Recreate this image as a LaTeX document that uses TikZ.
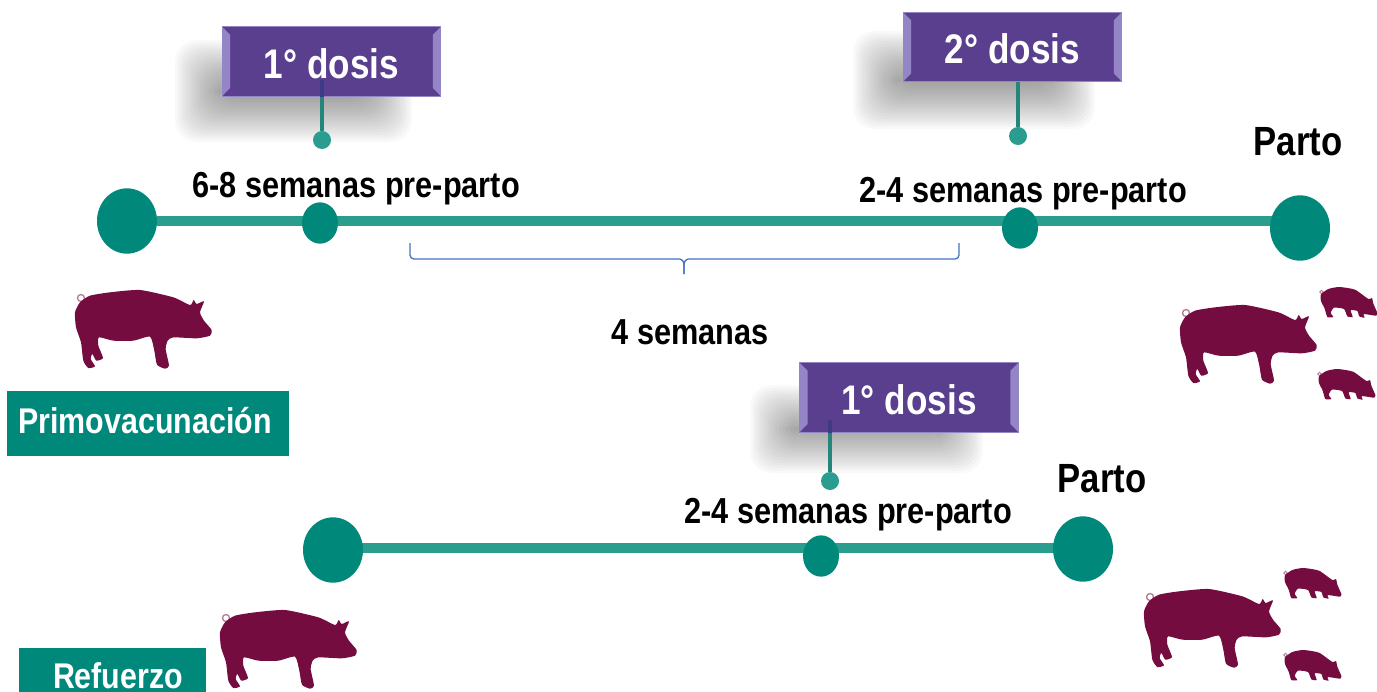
\documentclass[tikz,border=0pt]{standalone}
\usepackage{fontspec}
\usetikzlibrary{shapes.geometric,backgrounds}
\setmainfont{Liberation Sans}[FakeStretch=0.85]
\definecolor{tealbar}{HTML}{2A9D8F}
\definecolor{tealdot}{HTML}{00897B}
\definecolor{pigred}{HTML}{750C40}
\definecolor{boxpurple}{HTML}{5A3F8E}
\definecolor{boxedge}{HTML}{9485C6}
\definecolor{stemdark}{HTML}{3F3A85}
\definecolor{bracket}{HTML}{4472C4}
\newcommand{\dosislabel}[1]{\raisebox{-1.5pt}[\height][0pt]{#1}}

\begin{document}
\begin{tikzpicture}[
    x=0.75pt, y=-0.75pt,
    lbl/.style={inner sep=0pt, font=\bfseries\fontsize{27.1}{30}\selectfont},
    parto/.style={inner sep=0pt, font=\bfseries\fontsize{30.6}{32}\selectfont},
    dosisbox/.style={fill=boxpurple, draw=boxedge, semithick, minimum width=164pt,
        minimum height=52pt, inner sep=0pt, text=white,
        font=\bfseries\fontsize{31}{33}\selectfont,
        path picture={
            \fill[boxedge] (path picture bounding box.north west) -- ++(8,8) -- ++(0,53)
                -- (path picture bounding box.south west) -- cycle;
            \fill[boxedge] (path picture bounding box.north east) -- ++(-8,8) -- ++(0,53)
                -- (path picture bounding box.south east) -- cycle;
        }},
    tagbox/.style={fill=tealdot, inner sep=0pt},
    taglabel/.style={inner sep=0pt, text=white, font=\bfseries\fontsize{26.8}{29}\selectfont},
    bar/.style={draw=tealbar, line width=8pt},
    stem/.style={draw=tealbar!85!black, line width=3.4pt},
    tipdot/.style={circle, fill=tealbar, inner sep=0pt, minimum size=13.5pt},
    bigdot/.style={ellipse, fill=tealdot, inner sep=0pt, minimum width=45pt, minimum height=49pt},
    middot/.style={ellipse, fill=tealdot, inner sep=0pt, minimum width=27pt, minimum height=31pt},
    brace/.style={draw=bracket, line width=1pt, rounded corners=3pt},
    pig/.pic={
        \draw[pigred!55, line width=1pt] (6,8) circle (3.5);
        \fill[pigred, scale=1/3] plot[smooth cycle, tension=0.35] coordinates {
            (15,37) (45,17) (105,7) (195,0) (295,22) (345,45) (356,30) (365,42) (387,34)
            (375,67) (387,92) (410,120) (405,137) (365,145) (295,142) (278,152) (272,177)
            (282,227) (270,236) (246,224) (238,182) (225,140) (175,152) (115,152) (72,142)
            (70,167) (84,204) (64,212) (52,192) (47,207) (60,229) (40,234) (25,212) (18,157)
            (3,112) (0,67)};
    },
    piglet/.pic={
        \draw[pigred!55, line width=.7pt] (1.5,5) circle (1.8);
        \fill[pigred, scale=1/3] plot[smooth cycle, tension=0.35] coordinates {
            (3,22) (25,6) (58,0) (105,8) (145,36) (156,33) (160,50) (172,78) (168,86)
            (140,82) (130,82) (134,92) (118,88) (112,72) (92,70) (98,90) (82,88) (72,66)
            (42,62) (32,78) (40,90) (22,90) (14,65) (3,42)};
    }
]
    \useasboundingbox (0,0) rectangle (1377,692);

    % blurred shadows behind the three boxes
    \foreach \i in {0,...,17} {
        \fill[black, opacity=0.022, rounded corners=16pt]
            (175+2.5*\i,40+2.5*\i) rectangle (412-2.5*\i,142-2.5*\i);
        \fill[black, opacity=0.022, rounded corners=16pt]
            (853+2.5*\i,31+2.5*\i) rectangle (1095-2.5*\i,129-2.5*\i);
        \fill[black, opacity=0.022, rounded corners=16pt]
            (750+2.5*\i,385+2.5*\i) rectangle (983-2.5*\i,473-2.5*\i);
    }

    \node[bigdot] (startA) at (127,221) {};
    \node[bigdot] (endA) at (1300,228) {};
    \node[middot] (firstA) at (320,223) {};
    \node[middot] (secondA) at (1020,228) {};
    \node[bigdot] (startB) at (333,550) {};
    \node[bigdot] (endB) at (1083,549) {};
    \node[middot] (firstB) at (821,556) {};
    \begin{pgfonlayer}{background}
        \draw[bar] (startA) -- (startA -| endA);
        \draw[bar] ([yshift=1.5pt]startB.center) -- ([yshift=1.5pt]startB.center -| endB);
    \end{pgfonlayer}

    \node[dosisbox] (dosisA) at (331.5,61.5) {\dosislabel{1° dosis}};
    \node[dosisbox] (dosisB) at (1012.5,47) {\dosislabel{2° dosis}};
    \node[dosisbox] (dosisC) at (909,397.5) {\dosislabel{1° dosis}};

    \node[tipdot] (tipA) at (322,140) {};
    \node[tipdot] (tipB) at (1018,136) {};
    \node[tipdot] (tipC) at (830,481) {};
    \coordinate (stemA) at (322,80);
    \coordinate (stemC) at (830,420);
    \draw[stem] (tipA) -- (tipA |- dosisA.south);
    \draw[stem] (tipB) -- (tipB |- dosisB.south);
    \draw[stem] (tipC) -- (tipC |- dosisC.south);
    \draw[stem, draw=stemdark] (stemA) -- (stemA |- dosisA.south);
    \draw[stem, draw=stemdark] (stemC) -- (stemC |- dosisC.south);

    \node[lbl] (weeksA) at (356,189) {6-8 semanas pre-parto};
    \node[lbl] (weeksB) at (1023,194) {2-4 semanas pre-parto};
    \node[lbl] (weeksC) at (848,515) {2-4 semanas pre-parto};
    \node[lbl] (gap) at (690,332) {4 semanas};
    \node[parto] (partoA) at (1298,142) {Parto};
    \node[parto] (partoB) at (1102,479) {Parto};

    \coordinate (braceL) at (410,243);
    \coordinate (braceR) at (959,243);
    \coordinate (braceM) at (684,259);
    \coordinate (braceT) at (684,274);
    \draw[brace] (braceL) |- (braceM) -| (braceR);
    \fill[white] (680,258) rectangle (688,262);
    \draw[bracket, line width=1pt] (braceT) -- ++(0,-9) .. controls +(0,-4) and +(1.5,0) .. ++(-4,-6);
    \draw[bracket, line width=1pt] (braceT) -- ++(0,-9) .. controls +(0,-4) and +(-1.5,0) .. ++(4,-6);

    \node[tagbox, minimum width=211.5pt, minimum height=49pt] (primo) at (148,423.5) {};
    \node[taglabel] (primoText) at (145,421) {Primovacunación};
    \node[tagbox, minimum width=140pt, minimum height=33pt] (refuerzo) at (112.5,670) {};
    \node[taglabel] (refuerzoText) at (118,676) {Refuerzo};

    \pic at (75,290) {pig};
    \pic at (1180,305) {pig};
    \pic at (1144,589) {pig};
    \pic at (220,610) {pig};
    \pic at (1320,287) {piglet};
    \pic at (1318,369) {piglet};
    \pic at (1284,568) {piglet};
    \pic at (1284,650) {piglet};
\end{tikzpicture}
\end{document}
